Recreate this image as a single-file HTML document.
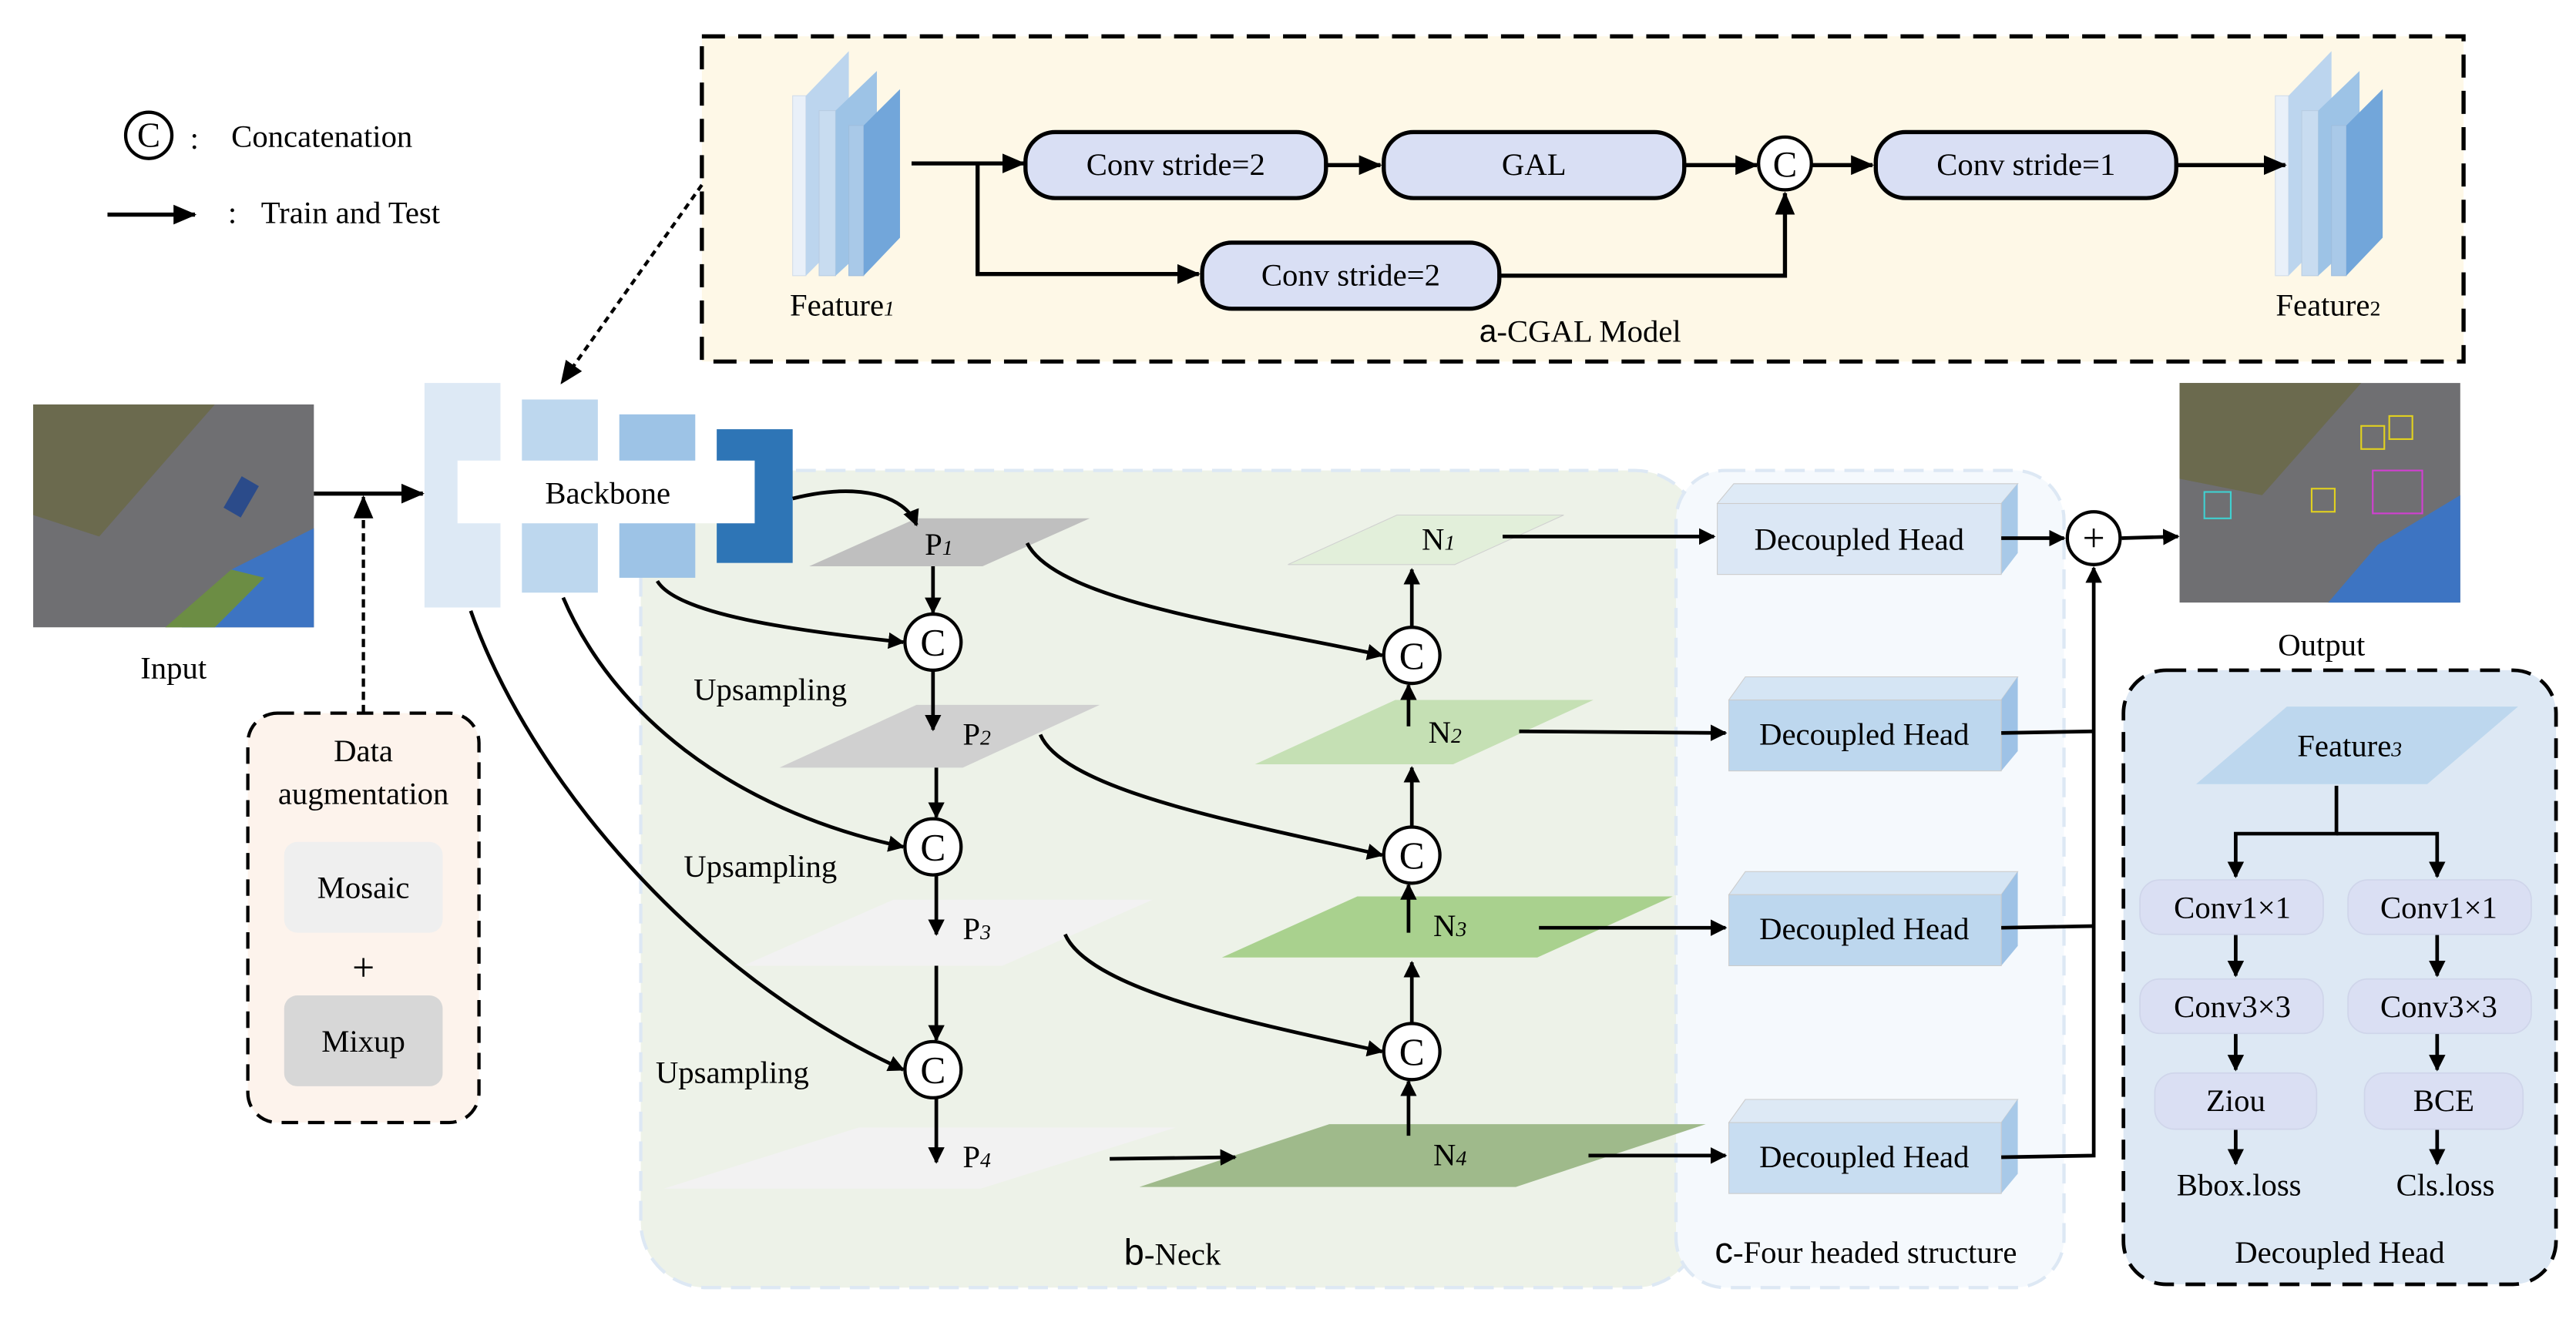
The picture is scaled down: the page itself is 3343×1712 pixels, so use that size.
<!DOCTYPE html>
<html><head><meta charset="utf-8"><style>
html,body{margin:0;padding:0;background:#fff;}
svg{display:block;}
</style></head><body>
<svg width="3343" height="1712" viewBox="0 0 1560 799" xmlns="http://www.w3.org/2000/svg" font-family="'Liberation Serif', 'DejaVu Serif', serif">
<defs>
<marker id="ah" markerWidth="10" markerHeight="10" refX="9" refY="5" orient="auto" markerUnits="userSpaceOnUse"><path d="M0,0 L10,5 L0,10 z" fill="#000"/></marker>
<marker id="ahs" markerWidth="14" markerHeight="12" refX="13" refY="6" orient="auto" markerUnits="userSpaceOnUse"><path d="M0,0 L14,6 L0,12 z" fill="#000"/></marker>
<g id="stack">
<rect x="0" y="27" width="8" height="109" fill="#e9f0f9" stroke="#d0dcea" stroke-width="0.5"/>
<polygon points="8,27 34,0 34,110 8,136" fill="#bcd5ee"/>
<rect x="16" y="36" width="10" height="100" fill="#c8dcf0" stroke="#b8cde2" stroke-width="0.5"/>
<polygon points="26,36 51,12 51,113 26,136" fill="#9dc3e6"/>
<rect x="34" y="45" width="9" height="91" fill="#a9c9e8" stroke="#9fbedd" stroke-width="0.5"/>
<polygon points="43,45 65,23 65,113 43,136" fill="#72a6da"/>
</g>
</defs>

<!-- legend -->
<circle cx="90" cy="82" r="14" fill="none" stroke="#000" stroke-width="2"/>
<text x="90" y="89" font-size="21" text-anchor="middle">C</text>
<text x="115" y="90" font-size="19">:</text>
<text x="140" y="89" font-size="19">Concatenation</text>
<line x1="65" y1="130" x2="118" y2="130" stroke="#000" stroke-width="2.5" marker-end="url(#ahs)"/>
<text x="138" y="135" font-size="19">:</text>
<text x="158" y="135" font-size="19">Train and Test</text>

<!-- CGAL box -->
<rect x="425" y="22" width="1067" height="197" fill="#fef8e7" stroke="#000" stroke-width="2.5" stroke-dasharray="14,8"/>
<use href="#stack" x="480" y="31"/>
<text x="510" y="191" font-size="19" text-anchor="middle">Feature<tspan font-size="13" font-style="italic">1</tspan></text>
<use href="#stack" x="1378" y="31"/>
<text x="1410" y="191" font-size="19" text-anchor="middle">Feature<tspan font-size="13">2</tspan></text>

<line x1="552" y1="99" x2="620" y2="99" stroke="#000" stroke-width="2.5" marker-end="url(#ahs)"/>
<polyline points="592,99 592,166 726,166" fill="none" stroke="#000" stroke-width="2.5" marker-end="url(#ahs)"/>
<rect x="621" y="80" width="182" height="40" rx="18" fill="#d9dff4" stroke="#000" stroke-width="2.5"/>
<text x="712" y="106" font-size="19" text-anchor="middle">Conv stride=2</text>
<line x1="803" y1="100" x2="836" y2="100" stroke="#000" stroke-width="2.5" marker-end="url(#ahs)"/>
<rect x="838" y="80" width="182" height="40" rx="18" fill="#d9dff4" stroke="#000" stroke-width="2.5"/>
<text x="929" y="106" font-size="19" text-anchor="middle">GAL</text>
<line x1="1020" y1="100" x2="1064" y2="100" stroke="#000" stroke-width="2.5" marker-end="url(#ahs)"/>
<circle cx="1081" cy="99" r="16" fill="#fff" stroke="#000" stroke-width="2"/>
<text x="1081" y="107" font-size="22" text-anchor="middle">C</text>
<line x1="1097" y1="100" x2="1134" y2="100" stroke="#000" stroke-width="2.5" marker-end="url(#ahs)"/>
<rect x="1136" y="80" width="182" height="40" rx="18" fill="#d9dff4" stroke="#000" stroke-width="2.5"/>
<text x="1227" y="106" font-size="19" text-anchor="middle">Conv stride=1</text>
<line x1="1318" y1="100" x2="1384" y2="100" stroke="#000" stroke-width="2.5" marker-end="url(#ahs)"/>
<rect x="728" y="147" width="180" height="40" rx="18" fill="#d9dff4" stroke="#000" stroke-width="2.5"/>
<text x="818" y="173" font-size="19" text-anchor="middle">Conv stride=2</text>
<polyline points="908,167 1081,167 1081,117" fill="none" stroke="#000" stroke-width="2.5" marker-end="url(#ahs)"/>
<text x="957" y="207" font-size="19" text-anchor="middle"><tspan font-family="'Liberation Sans',sans-serif">a</tspan>-CGAL Model</text>

<!-- dotted -->
<line x1="425" y1="112" x2="340" y2="232" stroke="#000" stroke-width="2" stroke-dasharray="4,3" marker-end="url(#ahs)"/>

<!-- neck/head regions -->
<rect x="388" y="285" width="642" height="495" rx="40" fill="#edf2e8" stroke="#dde8f4" stroke-width="2" stroke-dasharray="12,6"/>
<rect x="1015" y="285" width="235" height="495" rx="30" fill="#f5f9fd" stroke="#dde8f4" stroke-width="2" stroke-dasharray="12,6"/>

<!-- input image -->
<g>
<rect x="20" y="245" width="170" height="135" fill="#6f6f72"/>
<polygon points="20,245 130,245 60,325 20,312" fill="#6b6a4e"/>
<polygon points="140,345 190,320 190,380 110,380" fill="#3d74c2"/>
<polygon points="100,380 140,345 160,350 130,380" fill="#6c8d44"/>
<rect x="140" y="290" width="12" height="22" fill="#2b4b8a" transform="rotate(30 146 301)"/>
</g>
<text x="105" y="411" font-size="19" text-anchor="middle">Input</text>
<line x1="190" y1="299" x2="256" y2="299" stroke="#000" stroke-width="2.5" marker-end="url(#ahs)"/>
<line x1="220" y1="432" x2="220" y2="301" stroke="#000" stroke-width="2" stroke-dasharray="5,3" marker-end="url(#ahs)"/>

<!-- data aug -->
<rect x="150" y="432" width="140" height="248" rx="18" fill="#fdf3ec" stroke="#000" stroke-width="2" stroke-dasharray="10,6"/>
<text x="220" y="461" font-size="19" text-anchor="middle">Data</text>
<text x="220" y="487" font-size="19" text-anchor="middle">augmentation</text>
<rect x="172" y="510" width="96" height="55" rx="8" fill="#efefef"/>
<text x="220" y="544" font-size="19" text-anchor="middle">Mosaic</text>
<text x="220" y="594" font-size="24" text-anchor="middle">+</text>
<rect x="172" y="603" width="96" height="55" rx="8" fill="#d7d7d7"/>
<text x="220" y="637" font-size="19" text-anchor="middle">Mixup</text>

<!-- backbone -->
<rect x="257" y="232" width="46" height="136" fill="#dde9f5"/>
<rect x="316" y="242" width="46" height="117" fill="#bdd7ee"/>
<rect x="375" y="251" width="46" height="99" fill="#9dc3e6"/>
<rect x="434" y="260" width="46" height="81" fill="#2e75b6"/>
<rect x="277" y="279" width="180" height="38" fill="#fff"/>
<text x="368" y="305" font-size="19" text-anchor="middle">Backbone</text>

<!-- parallelograms -->
<polygon points="490,343 555,314 660,314 595,343" fill="#bfbfbf"/>
<polygon points="472,465 555,427 666,427 583,465" fill="#d0d0d0"/>
<polygon points="450,585 541,545 698,545 607,585" fill="#f2f2f2"/>
<polygon points="402,720 520,683 712,683 594,720" fill="#f2f2f2"/>
<polygon points="780,342 846,312 947,312 881,342" fill="#e2efda" stroke="#d0d0d0" stroke-width="0.5"/>
<polygon points="760,463 845,424 965,424 880,463" fill="#c5e0b4"/>
<polygon points="740,580 822,543 1013,543 931,580" fill="#a9d18e"/>
<polygon points="690,719 805,681 1033,681 918,719" fill="#9fba8b"/>
<text x="560" y="336" font-size="19">P<tspan font-size="13" font-style="italic">1</tspan></text>
<text x="583" y="451" font-size="19">P<tspan font-size="13" font-style="italic">2</tspan></text>
<text x="583" y="569" font-size="19">P<tspan font-size="13" font-style="italic">3</tspan></text>
<text x="583" y="707" font-size="19">P<tspan font-size="13" font-style="italic">4</tspan></text>
<text x="861" y="333" font-size="19">N<tspan font-size="13" font-style="italic">1</tspan></text>
<text x="865" y="450" font-size="19">N<tspan font-size="13" font-style="italic">2</tspan></text>
<text x="868" y="567" font-size="19">N<tspan font-size="13" font-style="italic">3</tspan></text>
<text x="868" y="706" font-size="19">N<tspan font-size="13" font-style="italic">4</tspan></text>

<!-- C circles neck -->
<g fill="#fff" stroke="#000" stroke-width="2">
<circle cx="565" cy="389" r="17"/><circle cx="565" cy="513" r="17"/><circle cx="565" cy="648" r="17"/>
<circle cx="855" cy="397" r="17"/><circle cx="855" cy="518" r="17"/><circle cx="855" cy="637" r="17"/>
</g>
<g font-size="23" text-anchor="middle">
<text x="565" y="397">C</text><text x="565" y="521">C</text><text x="565" y="656">C</text>
<text x="855" y="405">C</text><text x="855" y="526">C</text><text x="855" y="645">C</text>
</g>

<g stroke="#000" stroke-width="2.2" fill="none" marker-end="url(#ah)">
<line x1="565" y1="343" x2="565" y2="371"/>
<line x1="565" y1="406" x2="565" y2="442"/>
<line x1="567" y1="465" x2="567" y2="495"/>
<line x1="567" y1="530" x2="567" y2="566"/>
<line x1="567" y1="585" x2="567" y2="630"/>
<line x1="567" y1="665" x2="567" y2="704"/>
<line x1="855" y1="380" x2="855" y2="345"/>
<line x1="853" y1="440" x2="853" y2="415"/>
<line x1="855" y1="501" x2="855" y2="465"/>
<line x1="853" y1="565" x2="853" y2="536"/>
<line x1="855" y1="620" x2="855" y2="583"/>
<line x1="853" y1="688" x2="853" y2="655"/>
<path d="M480,302 C520,292 548,300 555,318"/>
<path d="M398,352 C410,372 480,382 547,389"/>
<path d="M341,362 C370,430 440,490 547,513"/>
<path d="M285,370 C320,470 420,590 547,648"/>
<path d="M622,329 C640,365 760,380 837,397"/>
<path d="M630,445 C645,480 760,500 837,518"/>
<path d="M645,566 C660,600 760,620 837,637"/>
<path d="M672,702 L748,701"/>
</g>
<g font-size="19">
<text x="420" y="424">Upsampling</text>
<text x="414" y="531">Upsampling</text>
<text x="397" y="656">Upsampling</text>
</g>

<!-- decoupled heads -->
<polygon points="1040,305 1050,293 1222,293 1212,305" fill="#deeaf6" stroke="#ccc" stroke-width="0.5"/>
<polygon points="1212,305 1222,293 1222,335 1212,348" fill="#a8c9e8"/>
<rect x="1040" y="305" width="172" height="43" fill="#dbe7f5" stroke="#ccc" stroke-width="0.5"/>
<polygon points="1047,424 1057,410 1222,410 1212,424" fill="#d5e5f4" stroke="#ccc" stroke-width="0.5"/>
<polygon points="1212,424 1222,410 1222,455 1212,467" fill="#9ec2e6"/>
<rect x="1047" y="424" width="165" height="43" fill="#bdd7ee" stroke="#ccc" stroke-width="0.5"/>
<polygon points="1047,542 1057,528 1222,528 1212,542" fill="#d5e5f4" stroke="#ccc" stroke-width="0.5"/>
<polygon points="1212,542 1222,528 1222,573 1212,585" fill="#9ec2e6"/>
<rect x="1047" y="542" width="165" height="43" fill="#bdd7ee" stroke="#ccc" stroke-width="0.5"/>
<polygon points="1047,680 1057,666 1222,666 1212,680" fill="#dde9f5" stroke="#ccc" stroke-width="0.5"/>
<polygon points="1212,680 1222,666 1222,711 1212,723" fill="#a8c9e8"/>
<rect x="1047" y="680" width="165" height="43" fill="#c8ddf1" stroke="#ccc" stroke-width="0.5"/>
<g font-size="19" text-anchor="middle">
<text x="1126" y="333">Decoupled Head</text>
<text x="1129" y="451">Decoupled Head</text>
<text x="1129" y="569">Decoupled Head</text>
<text x="1129" y="707">Decoupled Head</text>
</g>
<g stroke="#000" stroke-width="2.2" fill="none">
<line x1="910" y1="325" x2="1038" y2="325" marker-end="url(#ah)"/>
<line x1="920" y1="443" x2="1045" y2="444" marker-end="url(#ah)"/>
<line x1="932" y1="562" x2="1045" y2="562" marker-end="url(#ah)"/>
<line x1="962" y1="700" x2="1045" y2="700" marker-end="url(#ah)"/>
<line x1="1212" y1="326" x2="1250" y2="326" marker-end="url(#ah)"/>
<polyline points="1212,444 1268,443"/>
<polyline points="1212,562 1268,561"/>
<polyline points="1212,701 1268,700 1268,344" marker-end="url(#ah)"/>
<line x1="1285" y1="326" x2="1319" y2="325" marker-end="url(#ah)"/>
</g>
<circle cx="1268" cy="326" r="16" fill="#fff" stroke="#000" stroke-width="2"/>
<text x="1268" y="334" font-size="24" text-anchor="middle">+</text>

<!-- output image -->
<g>
<rect x="1320" y="232" width="170" height="133" fill="#6f6f72"/>
<polygon points="1320,232 1430,232 1370,300 1320,290" fill="#6b6a4e"/>
<polygon points="1440,330 1490,300 1490,365 1410,365" fill="#3d74c2"/>
<rect x="1430" y="258" width="14" height="14" fill="none" stroke="#e0d020" stroke-width="1"/>
<rect x="1447" y="252" width="14" height="14" fill="none" stroke="#e0d020" stroke-width="1"/>
<rect x="1437" y="285" width="30" height="26" fill="none" stroke="#d040d0" stroke-width="1"/>
<rect x="1335" y="298" width="16" height="16" fill="none" stroke="#40d0d0" stroke-width="1"/>
<rect x="1400" y="296" width="14" height="14" fill="none" stroke="#e0d020" stroke-width="1"/>
</g>
<text x="1406" y="397" font-size="19" text-anchor="middle">Output</text>

<!-- decoupled head panel -->
<rect x="1286" y="406" width="262" height="372" rx="26" fill="#dde8f4" stroke="#000" stroke-width="2.2" stroke-dasharray="12,7"/>
<polygon points="1330,475 1385,428 1525,428 1470,475" fill="#bdd7ee"/>
<text x="1423" y="458" font-size="19" text-anchor="middle">Feature<tspan font-size="13" font-style="italic">3</tspan></text>
<g stroke="#000" stroke-width="2.2" fill="none">
<polyline points="1415,476 1415,505 1354,505 1354,531" marker-end="url(#ah)"/>
<polyline points="1415,505 1476,505 1476,531" marker-end="url(#ah)"/>
<line x1="1354" y1="566" x2="1354" y2="591" marker-end="url(#ah)"/>
<line x1="1476" y1="566" x2="1476" y2="591" marker-end="url(#ah)"/>
<line x1="1354" y1="626" x2="1354" y2="648" marker-end="url(#ah)"/>
<line x1="1476" y1="626" x2="1476" y2="648" marker-end="url(#ah)"/>
<line x1="1354" y1="684" x2="1354" y2="705" marker-end="url(#ah)"/>
<line x1="1476" y1="684" x2="1476" y2="705" marker-end="url(#ah)"/>
</g>
<g fill="#dadff3" stroke="#cfd5ea" stroke-width="0.8">
<rect x="1296" y="533" width="111" height="33" rx="12"/>
<rect x="1422" y="533" width="111" height="33" rx="12"/>
<rect x="1296" y="593" width="111" height="33" rx="12"/>
<rect x="1422" y="593" width="111" height="33" rx="12"/>
<rect x="1305" y="650" width="98" height="34" rx="12"/>
<rect x="1432" y="650" width="96" height="34" rx="12"/>
</g>
<g font-size="19" text-anchor="middle">
<text x="1352" y="556">Conv1×1</text>
<text x="1477" y="556">Conv1×1</text>
<text x="1352" y="616">Conv3×3</text>
<text x="1477" y="616">Conv3×3</text>
<text x="1354" y="673">Ziou</text>
<text x="1480" y="673">BCE</text>
<text x="1356" y="724">Bbox.loss</text>
<text x="1481" y="724">Cls.loss</text>
<text x="1417" y="765">Decoupled Head</text>
</g>

<text x="710" y="766" font-size="19" text-anchor="middle"><tspan font-family="'Liberation Sans',sans-serif" font-size="22">b</tspan>-Neck</text>
<text x="1130" y="765" font-size="19" text-anchor="middle"><tspan font-family="'Liberation Sans',sans-serif" font-size="22">c</tspan>-Four headed structure</text>
</svg>
</body></html>
